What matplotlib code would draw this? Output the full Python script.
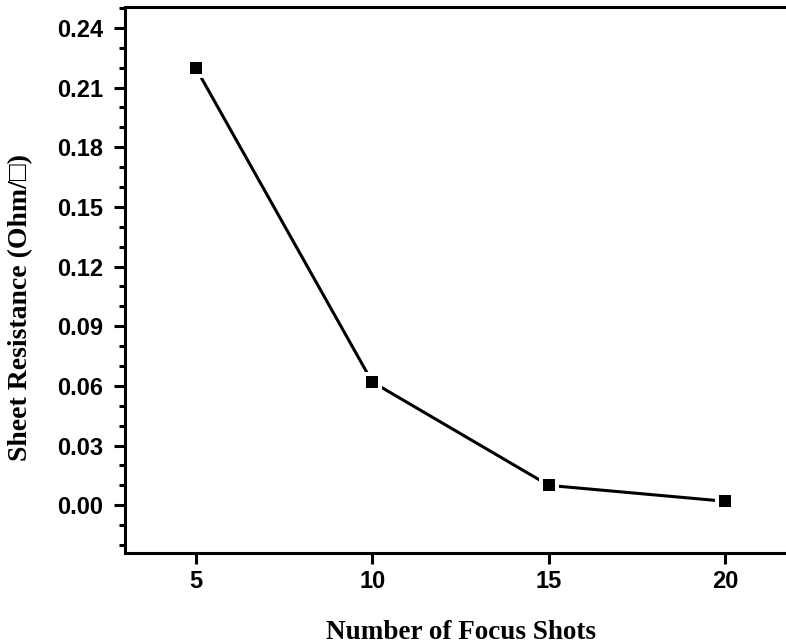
import matplotlib
matplotlib.use('Agg')
import matplotlib.pyplot as plt
from matplotlib.ticker import MultipleLocator

shots = [5, 10, 15, 20]
resistance = [0.220, 0.062, 0.010, 0.002]
x_ticks = [5, 10, 15, 20]

fig = plt.figure(figsize=(7.86, 6.44), dpi=100)
ax = fig.add_axes([125 / 786, 91 / 644, 671 / 786, 546 / 644])

# Origin-style line: small gap between line and square markers
ax.plot(shots, resistance, color='black', linewidth=2.2,
        marker='s', markersize=11.5, markerfacecolor='black',
        markeredgecolor='white', markeredgewidth=2.9)

ax.set_xlim(3, 22)
ax.set_ylim(-0.024, 0.2505)
ax.set_xticks(x_ticks)
ax.yaxis.set_major_locator(MultipleLocator(0.03))
ax.yaxis.set_minor_locator(MultipleLocator(0.01))
ax.yaxis.set_major_formatter(plt.FormatStrFormatter('%.2f'))

for side in ['left', 'bottom', 'top']:
    ax.spines[side].set_linewidth(2.2)
ax.spines['right'].set_visible(False)

ax.tick_params(axis='both', which='major', direction='out', length=8,
               width=2.2, labelsize=17)
ax.tick_params(axis='y', which='major', pad=8)
ax.tick_params(axis='x', which='major', pad=4)
ax.tick_params(axis='y', which='minor', direction='out', length=4.5, width=2.2)
for lbl in ax.get_xticklabels() + ax.get_yticklabels():
    lbl.set_fontfamily('Liberation Sans')
    lbl.set_fontweight('bold')

ax.set_xlabel('Number of Focus Shots', fontsize=19.5, fontweight='bold',
              family=['Liberation Serif', 'DejaVu Serif'])
ax.set_ylabel('Sheet Resistance (Ohm/\u25a1)', fontsize=20, fontweight='bold',
              family=['Liberation Serif', 'DejaVu Serif'])
ax.xaxis.set_label_coords(0.5, -0.122)
ax.yaxis.set_label_coords(-0.137, 0.449)

fig.savefig('out.png', dpi=100)
